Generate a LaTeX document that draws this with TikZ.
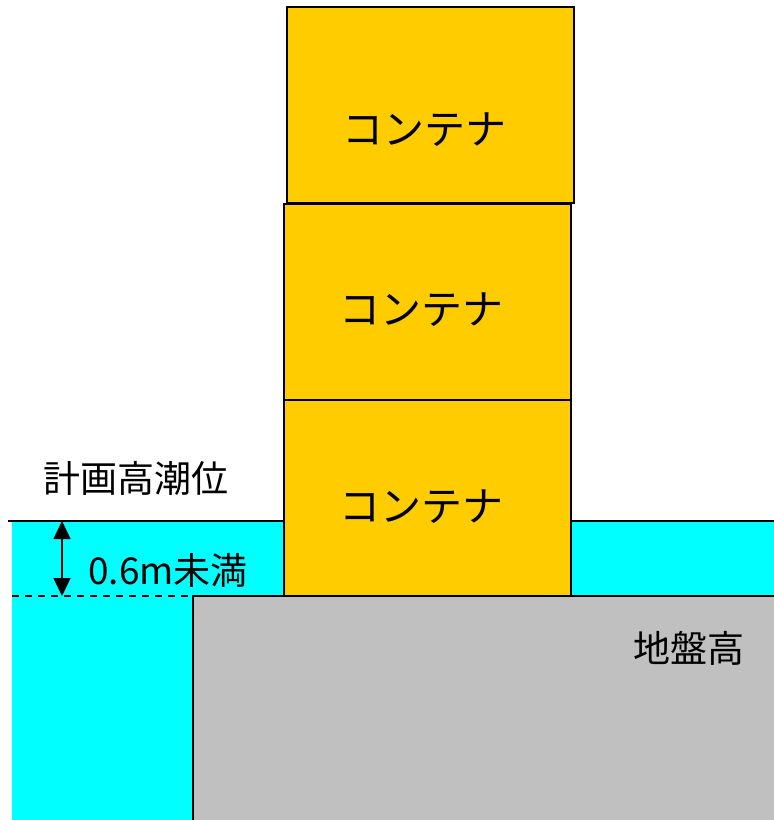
\documentclass[tikz,border=0pt]{standalone}
\usepackage{fontspec}
\setmainfont{Noto Sans CJK JP}
\usetikzlibrary{shapes.geometric, arrows.meta}
\definecolor{water}{RGB}{0,255,255}
\definecolor{ground}{RGB}{192,192,192}
\definecolor{cargo}{RGB}{255,204,0}
\tikzstyle{container} = [draw, rectangle, fill=cargo, line width=2pt, minimum width=287pt, minimum height=196pt, inner sep=0pt]
\tikzstyle{cargotext} = [inner sep=0pt, font=\fontsize{41}{41}\selectfont]
\tikzstyle{label} = [inner sep=0pt, font=\fontsize{37}{37}\selectfont]
\tikzstyle{arrow} = [line width=1.5pt,{Triangle[width=17pt,length=18pt]}-{Triangle[width=17pt,length=18pt]}]

\begin{document}
\begin{tikzpicture}[x=1pt, y=-1pt]
            \useasboundingbox (0,0) rectangle (774,820);
            \fill[water] (12,521) rectangle (774,820);
            \draw[line width=2pt] (8,521) -- (774,521);
            \draw[line width=1.2pt, dash pattern=on 7pt off 6pt] (12,596) -- (193,596);
            \fill[ground] (193,596) rectangle (774,820);
            \draw[line width=2pt] (193,820) -- (193,596) -- (774,596);
            \node[container] (c3) at (430,105) {};
            \node[container] (c2) at (427.5,301.5) {};
            \node[container] (c1) at (427.5,498) {};
            \node[cargotext] (t3) at (424,130) {コンテナ};
            \node[cargotext] (t2) at (421,310) {コンテナ};
            \node[cargotext] (t1) at (421,507) {コンテナ};
            \node[label] (hwl) at (136,478) {計画高潮位};
            \node[label] (gap) at (168,570) {0.6m未満};
            \node[label] (gl) at (689,648) {地盤高};
            \coordinate (top) at (62,521);
            \coordinate (bot) at (62,596);
            \draw[arrow] (top) -- (bot);
        \end{tikzpicture}
\end{document}
